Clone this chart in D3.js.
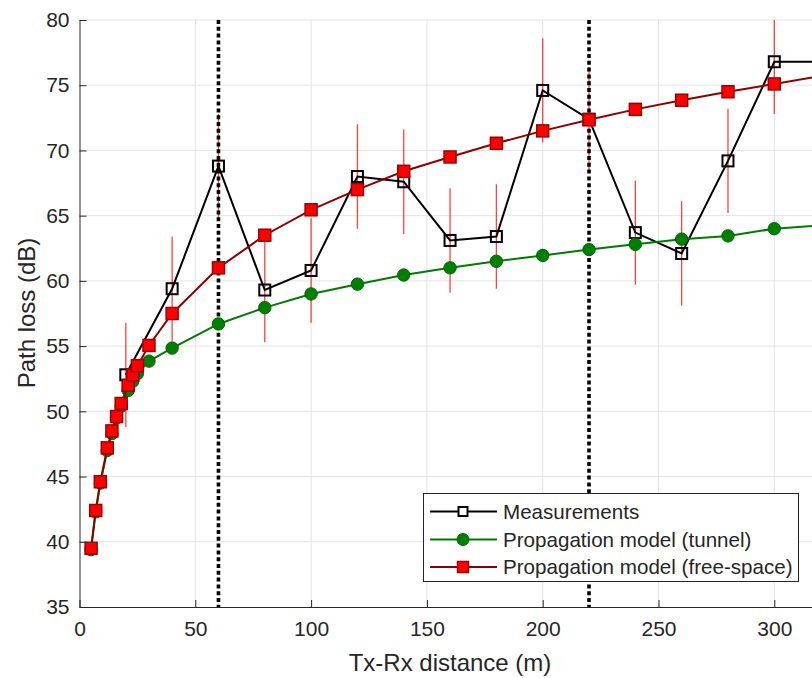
<!DOCTYPE html>
<html>
<head>
<meta charset="utf-8">
<script src="https://cdn.jsdelivr.net/npm/d3@7/dist/d3.min.js"></script>
<style>
  html, body { margin: 0; padding: 0; background: #ffffff; }
  svg { display: block; }
  text { font-family: "Liberation Sans", Arial, Helvetica, sans-serif; fill: #262626; }
</style>
</head>
<body>
<svg id="chart" width="812" height="678"></svg>
<script>
// Measured path loss with its uncertainty (dB)
const measDist = [20, 40, 60, 80, 100, 120, 140, 160, 180, 200, 220, 240, 260, 280, 300, 320];
const measPL   = [52.8, 59.4, 68.8, 59.3, 60.8, 68.0, 67.6, 63.1, 63.4, 74.6, 72.4, 63.7, 62.1, 69.2, 76.8, 76.8];
const measErr  = [4, 4, 4, 4, 4, 4, 4, 4, 4, 4, 4, 4, 4, 4, 4, 4];

// Model curves evaluated on a common distance grid (m)
const modelDist   = [5, 7, 9, 12, 14, 16, 18, 21, 23, 25, 30, 40, 60, 80, 100, 120, 140, 160, 180, 200, 220, 240, 260, 280, 300, 320];
const tunnelPL    = [39.4, 42.3, 44.5, 47.0, 48.3, 49.5, 50.4, 51.6, 52.3, 52.9, 53.85, 54.85, 56.7, 57.95, 59.0, 59.75, 60.45, 61.0, 61.5, 61.95, 62.4, 62.8, 63.2, 63.45, 64.0, 64.25];
const freeSpacePL = [39.5, 42.4, 44.6, 47.2, 48.5, 49.6, 50.6, 52.0, 52.8, 53.5, 55.05, 57.5, 61.0, 63.5, 65.45, 67.0, 68.4, 69.5, 70.55, 71.5, 72.35, 73.15, 73.85, 74.5, 75.1, 75.7];

// Reference distances marked by vertical dotted lines
const markerDist = [60, 220];

const xTicks = [0, 50, 100, 150, 200, 250, 300];
const yTicks = [35, 40, 45, 50, 55, 60, 65, 70, 75, 80];

const legendLabels = ["Measurements", "Propagation model (tunnel)", "Propagation model (free-space)"];

const W = 812, H = 678;
const svg = d3.select("#chart");

const x = d3.scaleLinear().domain([0, 300]).range([79.5, 774.3]);
const y = d3.scaleLinear().domain([35, 80]).range([607, 20]);

const plotLeft = x(0), plotTop = y(80), plotBottom = y(35), plotRight = W + 20;

svg.append("defs").append("clipPath").attr("id", "plotClip")
  .append("rect").attr("x", plotLeft).attr("y", plotTop)
  .attr("width", plotRight - plotLeft).attr("height", plotBottom - plotTop);

// Grid
const grid = svg.append("g").attr("stroke", "#e3e3e3").attr("stroke-width", 1);
grid.selectAll("line.gx").data(xTicks.filter(d => d > 0)).enter().append("line")
  .attr("x1", d => x(d)).attr("x2", d => x(d)).attr("y1", plotTop).attr("y2", plotBottom);
grid.selectAll("line.gy").data(yTicks.filter(d => d > 35)).enter().append("line")
  .attr("x1", plotLeft).attr("x2", plotRight).attr("y1", d => y(d)).attr("y2", d => y(d));

const plot = svg.append("g").attr("clip-path", "url(#plotClip)");

// Error bars on the measurements
plot.append("g").selectAll("line").data(measDist.map((d, i) => ({ d, v: measPL[i], e: measErr[i] })))
  .enter().append("line")
  .attr("x1", p => x(p.d)).attr("x2", p => x(p.d))
  .attr("y1", p => y(p.v + p.e)).attr("y2", p => y(p.v - p.e))
  .attr("stroke", "#ff2020").attr("stroke-opacity", 0.85).attr("stroke-width", 1.3);

// Vertical dotted reference lines
plot.append("g").selectAll("line").data(markerDist).enter().append("line")
  .attr("x1", d => x(d)).attr("x2", d => x(d)).attr("y1", plotTop).attr("y2", plotBottom)
  .attr("stroke", "#000").attr("stroke-width", 3.6).attr("stroke-dasharray", "4,2.8");

const line = d3.line().x(p => x(p[0])).y(p => y(p[1]));

// Measurements
const measPts = measDist.map((d, i) => [d, measPL[i]]);
plot.append("path").datum(measPts).attr("d", line)
  .attr("fill", "none").attr("stroke", "#000").attr("stroke-width", 2);
plot.append("g").selectAll("rect").data(measPts).enter().append("rect")
  .attr("x", p => x(p[0]) - 5.5).attr("y", p => y(p[1]) - 5.5)
  .attr("width", 11).attr("height", 11)
  .attr("fill", "none").attr("stroke", "#000").attr("stroke-width", 2);

// Tunnel model
const tunPts = modelDist.map((d, i) => [d, tunnelPL[i]]);
plot.append("path").datum(tunPts).attr("d", line)
  .attr("fill", "none").attr("stroke", "#007a00").attr("stroke-width", 2);
plot.append("g").selectAll("circle").data(tunPts).enter().append("circle")
  .attr("cx", p => x(p[0])).attr("cy", p => y(p[1])).attr("r", 6.2)
  .attr("fill", "#008000").attr("stroke", "#006400").attr("stroke-width", 1);

// Free-space model
const fsPts = modelDist.map((d, i) => [d, freeSpacePL[i]]);
plot.append("path").datum(fsPts).attr("d", line)
  .attr("fill", "none").attr("stroke", "#8e0000").attr("stroke-width", 2);
plot.append("g").selectAll("rect").data(fsPts).enter().append("rect")
  .attr("x", p => x(p[0]) - 6).attr("y", p => y(p[1]) - 6)
  .attr("width", 12).attr("height", 12)
  .attr("fill", "#ff0000").attr("stroke", "#a00000").attr("stroke-width", 1.5);

// Axes
const axisColor = "#262626";
const xAxis = d3.axisBottom(x).tickValues(xTicks).tickSizeInner(-7).tickSizeOuter(0).tickPadding(14);
const gx = svg.append("g").attr("transform", `translate(0,${plotBottom})`).call(xAxis);
gx.select(".domain").attr("stroke", axisColor).attr("d", `M${plotLeft},0.5H${plotRight}`);
gx.selectAll(".tick line").attr("stroke", axisColor);
gx.selectAll(".tick text").attr("font-size", 21).attr("fill", axisColor)
  .style("font-family", "'Liberation Sans', Arial, sans-serif");

const yAxis = d3.axisLeft(y).tickValues(yTicks).tickSizeInner(-7).tickSizeOuter(0).tickPadding(10);
const gy = svg.append("g").attr("transform", `translate(${plotLeft},0)`).call(yAxis);
gy.select(".domain").attr("stroke", axisColor);
gy.selectAll(".tick line").attr("stroke", axisColor);
gy.selectAll(".tick text").attr("font-size", 21).attr("fill", axisColor)
  .style("font-family", "'Liberation Sans', Arial, sans-serif");

// Axis titles
svg.append("text").attr("x", 450).attr("y", 671).attr("text-anchor", "middle")
  .attr("font-size", 24).text("Tx-Rx distance (m)");
svg.append("text").attr("transform", "translate(35,313) rotate(-90)").attr("text-anchor", "middle")
  .attr("font-size", 24).text("Path loss (dB)");

// Legend
const lg = svg.append("g");
lg.append("rect").attr("x", 423.5).attr("y", 493.5).attr("width", 375).attr("height", 88)
  .attr("fill", "#fff").attr("stroke", axisColor).attr("stroke-width", 1);
const rowY = [511.5, 539.5, 567];
const styles = [
  { line: "#000", kind: "open" },
  { line: "#007a00", kind: "circle" },
  { line: "#8e0000", kind: "square" }
];
legendLabels.forEach((lab, i) => {
  const g = lg.append("g").attr("transform", `translate(0,${rowY[i]})`);
  g.append("line").attr("x1", 430).attr("x2", 497).attr("y1", 0).attr("y2", 0)
    .attr("stroke", styles[i].line).attr("stroke-width", 2);
  if (styles[i].kind === "open") {
    g.append("rect").attr("x", 458.5).attr("y", -4.5).attr("width", 9).attr("height", 9)
      .attr("fill", "#fff").attr("stroke", "#000").attr("stroke-width", 2);
  } else if (styles[i].kind === "circle") {
    g.append("circle").attr("cx", 463).attr("cy", 0).attr("r", 6)
      .attr("fill", "#008000").attr("stroke", "#006400").attr("stroke-width", 1);
  } else {
    g.append("rect").attr("x", 457.5).attr("y", -5.5).attr("width", 11).attr("height", 11)
      .attr("fill", "#ff0000").attr("stroke", "#a00000").attr("stroke-width", 1.5);
  }
  g.append("text").attr("x", 503).attr("y", 7).attr("font-size", 20.6).text(lab);
});
</script>
</body>
</html>
